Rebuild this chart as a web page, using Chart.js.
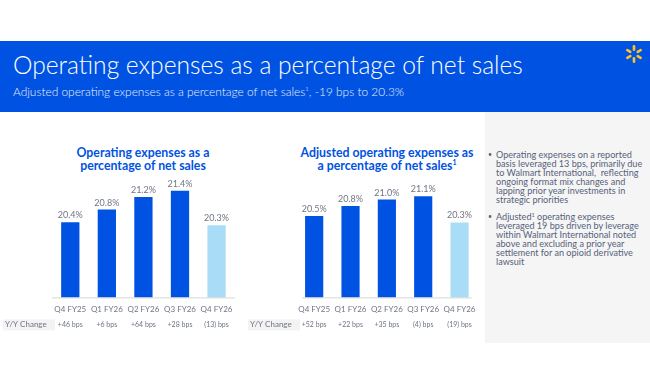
<!DOCTYPE html>
<html>
<head>
<meta charset="utf-8">
<script src="https://cdn.jsdelivr.net/npm/chart.js@4.4.1/dist/chart.umd.min.js"></script>
<style>
  html, body { margin: 0; padding: 0; background: #fff; }
  body { width: 650px; height: 386px; position: relative; overflow: hidden; font-family: 'Lato', sans-serif; }
  .banner { position: absolute; left: 0; top: 41px; width: 650px; height: 71px; background: #0053e2; }
  .banner h1 { position: absolute; left: 13px; top: 9px; margin: 0; font-weight: 300; font-size: 24.6px; color: #fff; white-space: nowrap; }
  .banner p { position: absolute; left: 13px; top: 43px; margin: 0; font-weight: 300; font-size: 11.9px; color: #e8eefc; white-space: nowrap; }
  .banner sup { font-size: 6px; vertical-align: 5px; }
  .spark { position: absolute; left: 623px; top: 43px; }
  .chart-title { position: absolute; top: 146px; width: 200px; margin: 0; text-align: center; font-weight: 700; font-size: 12.3px; line-height: 13px; color: #0053e2; }
  .chart-title sup { font-size: 7px; vertical-align: 5px; line-height: 0; }
  .chart-box { position: absolute; top: 160px; height: 185px; }
  .panel { position: absolute; left: 485px; top: 112px; right: 0; bottom: 43px; background: #f5f5f6; overflow: hidden; }
  .panel ul { margin: 0; padding: 0; list-style: none; position: absolute; left: 3px; top: 38px; width: 160px; }
  .panel li { position: relative; padding-left: 8px; font-size: 9.1px; line-height: 9px; color: #56627a; margin-bottom: 8px; white-space: nowrap; }
  .panel li::before { content: '\2022'; position: absolute; left: 0; top: 0; font-size: 7px; }
  .panel sup { font-size: 5.5px; vertical-align: 3px; line-height: 0; }
</style>
</head>
<body>
<div class="banner">
  <h1>Operating expenses as a percentage of net sales</h1>
  <p>Adjusted operating expenses as a percentage of net sales<sup>1</sup>, -19 bps to 20.3%</p>
</div>
<svg class="spark" width="22" height="22" viewBox="-11 -11 22 22">
  <g fill="#ffc220">
    <rect x="-1.3" y="-9" width="2.6" height="6" rx="1.3" transform="rotate(0)"/>
    <rect x="-1.3" y="-9" width="2.6" height="6" rx="1.3" transform="rotate(60)"/>
    <rect x="-1.3" y="-9" width="2.6" height="6" rx="1.3" transform="rotate(120)"/>
    <rect x="-1.3" y="-9" width="2.6" height="6" rx="1.3" transform="rotate(180)"/>
    <rect x="-1.3" y="-9" width="2.6" height="6" rx="1.3" transform="rotate(240)"/>
    <rect x="-1.3" y="-9" width="2.6" height="6" rx="1.3" transform="rotate(300)"/>
  </g>
</svg>

<div class="chart-title" style="left:43px">Operating expenses as a<br>percentage of net sales</div>
<div class="chart-title" style="left:287px">Adjusted operating expenses as<br>a percentage of net sales<sup>1</sup></div>

<div class="chart-box" style="left:0; width:240px"><canvas id="chart-reported"></canvas></div>
<div class="chart-box" style="left:245px; width:238px"><canvas id="chart-adjusted"></canvas></div>

<div class="panel">
  <ul>
    <li>Operating expenses on a reported<br>basis leveraged 13 bps, primarily due<br>to Walmart International,&nbsp; reflecting<br>ongoing format mix changes and<br>lapping prior year investments in<br>strategic priorities</li>
    <li>Adjusted<sup>1</sup> operating expenses<br>leveraged 19 bps driven by leverage<br>within Walmart International noted<br>above and excluding a prior year<br>settlement for an opioid derivative<br>lawsuit</li>
  </ul>
</div>

<script>
// ========================= DADOS =========================
const quarters = ['Q4 FY25', 'Q1 FY26', 'Q2 FY26', 'Q3 FY26', 'Q4 FY26'];
const opexPct = [20.4, 20.8, 21.2, 21.4, 20.3];
const opexChange = ['+46 bps', '+6 bps', '+64 bps', '+28 bps', '(13) bps'];
const adjOpexPct = [20.5, 20.8, 21.0, 21.1, 20.3];
const adjOpexChange = ['+52 bps', '+22 bps', '+35 bps', '(4) bps', '(19) bps'];

const BLUE = '#0053e2';
const LIGHT_BLUE = '#a9ddf7';
const GREY_TEXT = '#6f7585';

// rótulos de valor + linha "Y/Y Change" abaixo do eixo
const labelsPlugin = {
    id: 'labelsPlugin',
    afterDatasetsDraw(chart, args, opts) {
        const ctx = chart.ctx;
        const meta = chart.getDatasetMeta(0);
        const area = chart.chartArea;
        ctx.save();

        // linha do eixo
        ctx.strokeStyle = '#d6d6d6';
        ctx.lineWidth = 1;
        ctx.beginPath();
        ctx.moveTo(area.left + opts.axisInset, area.bottom + 0.5);
        ctx.lineTo(area.right - opts.axisInset, area.bottom + 0.5);
        ctx.stroke();

        // valores acima das barras
        ctx.fillStyle = GREY_TEXT;
        ctx.font = '9px Lato';
        ctx.textAlign = 'center';
        ctx.textBaseline = 'alphabetic';
        meta.data.forEach((bar, i) => {
            const v = chart.data.datasets[0].data[i];
            ctx.fillText(v.toFixed(1) + '%', bar.x, bar.y - 4);
        });

        // linha Y/Y Change
        const rowY = area.bottom + 27;
        ctx.fillStyle = '#f3f3f4';
        ctx.fillRect(3, rowY - 5, 52, 11);
        ctx.fillStyle = GREY_TEXT;
        ctx.font = '8px Lato';
        ctx.textAlign = 'left';
        ctx.textBaseline = 'middle';
        ctx.fillText('Y/Y Change', 5, rowY);
        ctx.font = '7px Lato';
        ctx.textAlign = 'center';
        meta.data.forEach((bar, i) => {
            ctx.fillText(opts.changes[i], bar.x, rowY);
        });
        ctx.restore();
    }
};

function criarGrafico(id, valores, variacoes, padTop, padLeft, axisInset) {
    const ctx = document.getElementById(id);
    return new Chart(ctx, {
        type: 'bar',
        data: {
            labels: quarters,
            datasets: [{
                data: valores,
                backgroundColor: valores.map((v, i) => i === valores.length - 1 ? LIGHT_BLUE : BLUE),
                borderWidth: 0,
                barPercentage: 0.5,
                categoryPercentage: 1
            }]
        },
        options: {
            responsive: true,
            maintainAspectRatio: false,
            animation: false,
            layout: {
                padding: { top: padTop, left: padLeft, right: 5, bottom: 24 }
            },
            scales: {
                x: {
                    grid: { display: false, drawTicks: false },
                    border: { display: false },
                    ticks: {
                        color: GREY_TEXT,
                        padding: 7,
                        maxRotation: 0,
                        minRotation: 0,
                        autoSkip: false,
                        font: { family: 'Lato', size: 8 }
                    }
                },
                y: {
                    display: false,
                    min: 18,
                    max: 22
                }
            },
            plugins: {
                legend: { display: false },
                tooltip: { enabled: false },
                labelsPlugin: { changes: variacoes, axisInset: axisInset }
            }
        },
        plugins: [labelsPlugin]
    });
}

document.addEventListener('DOMContentLoaded', function() {
    criarGrafico('chart-reported', opexPct, opexChange, 12, 52, 0);
    criarGrafico('chart-adjusted', adjOpexPct, adjOpexChange, 7, 51, 6);
});
</script>
</body>
</html>
